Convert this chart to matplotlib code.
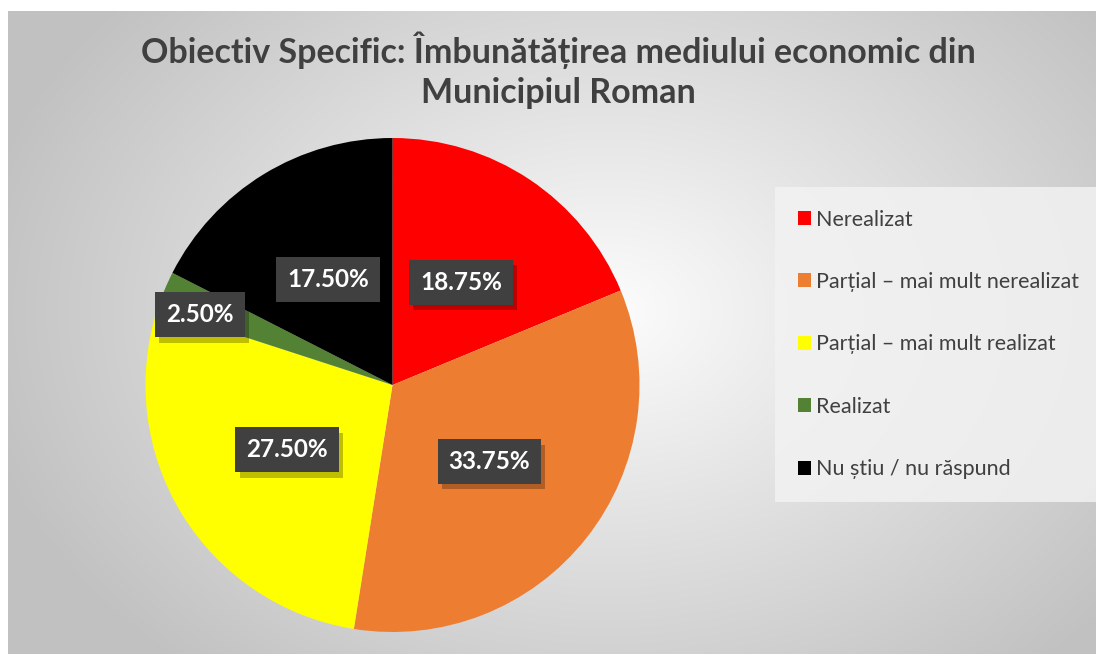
"""
Pie chart: Obiectiv Specific - Imbunatatirea mediului economic din Municipiul Roman
"""

import numpy as np
from matplotlib import pyplot as plt
from matplotlib import patheffects

# data
categories = ["Nerealizat", "Parțial – mai mult nerealizat", "Parțial – mai mult realizat",
              "Realizat", "Nu știu / nu răspund"]
values = [18.75, 33.75, 27.50, 2.50, 17.50]
colors = ["#FF0000", "#ED7D31", "#FFFF00", "#548235", "#000000"]
title = "Obiectiv Specific: Îmbunătățirea mediului economic din\nMunicipiul Roman"

W, H = 1096, 654
plt.rcParams["font.family"] = ["Lato", "DejaVu Sans"]
fig = plt.figure(figsize=(W / 100, H / 100), dpi=100)
fig.patch.set_facecolor("white")

# radial gradient background of the chart area
bg = fig.add_axes([8 / W, 0, 1 - 8 / W, 1 - 11 / H])
yy, xx = np.mgrid[0:643, 0:1088]
cx, cy = 600, 300
d = np.sqrt(((xx - cx) / 640) ** 2 + ((yy - cy) / 470) ** 2)
shade = 0.99 - 0.23 * np.clip(d, 0, 1)
bg.imshow(np.dstack([shade] * 3), aspect="auto", extent=(0, 1, 0, 1), origin="upper")
bg.set_axis_off()

# pie axes: centre (392.5, 385) px, radius 247 px
r = 247
ax = fig.add_axes([(392.5 - r) / W, (H - 385 - r) / H, 2 * r / W, 2 * r / H])
wedges, _ = ax.pie(values, colors=colors, startangle=90, counterclock=False, radius=1)
ax.set_xlim(-1, 1)
ax.set_ylim(-1, 1)
ax.set_aspect("equal")

# percentage labels in dark boxes
for w, v in zip(wedges, values):
    mid = np.deg2rad((w.theta1 + w.theta2) / 2)
    dist = 0.83 if v < 5 else 0.5
    if v < 5:
        mid += np.deg2rad(2.5)
    t = ax.text(dist * np.cos(mid), dist * np.sin(mid), f"{v:.2f}%", ha="center", va="center",
                color="white", fontsize=17.5, fontweight="bold",
                bbox=dict(boxstyle="square,pad=0.45", fc="#404040", lw=0))
    t.get_bbox_patch().set_path_effects([
        patheffects.withSimplePatchShadow(offset=(3, -4), shadow_rgbFace="black", alpha=0.25)])

fig.text(558 / W, 1 - 70 / H, title, ha="center", va="center", fontsize=24.5,
         fontweight="bold", color="#404040", linespacing=1.3)

leg = fig.legend(wedges, categories, loc="upper left", bbox_to_anchor=(775 / W, 1 - 187 / H),
                 fontsize=15.5, frameon=True, fancybox=False, labelspacing=1.97,
                 handlelength=0.62, handleheight=0.62, handletextpad=0.25, borderpad=1.05,
                 borderaxespad=0, labelcolor="#404040")
leg.get_frame().set_facecolor("#f2f2f2")
leg.get_frame().set_alpha(0.85)
leg.get_frame().set_linewidth(0)

plt.savefig("out.png", dpi=100)
